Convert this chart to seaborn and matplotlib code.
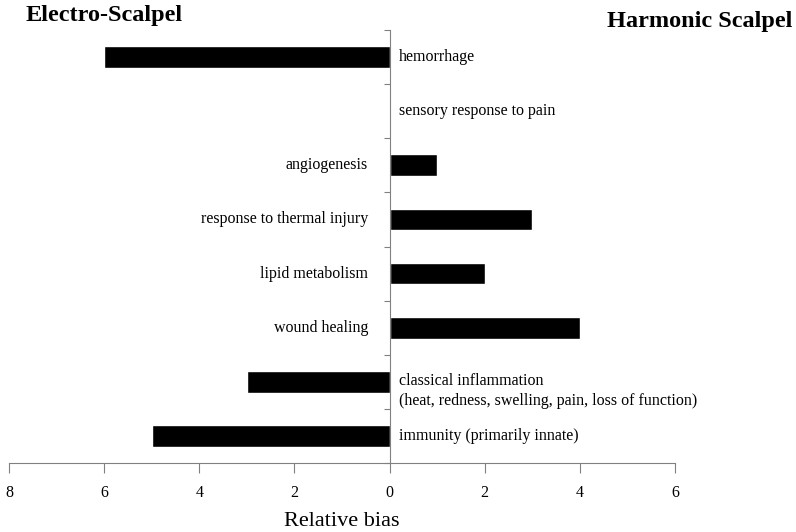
import numpy as np
import pandas as pd
import seaborn as sns
import matplotlib.pyplot as plt

# =========================
# Data
# =========================

categories = [
    "hemorrhage",
    "sensory response to pain",
    "angiogenesis",
    "response to thermal injury",
    "lipid metabolism",
    "wound healing",
    "classical inflammation\n(heat, redness, swelling, pain, loss of function)",
    "immunity (primarily innate)",
]
bias = [-6, 0, 1, 3, 2, 4, -3, -5]
xtick_values = [-8, -6, -4, -2, 0, 2, 4, 6]

df = pd.DataFrame({"category": categories, "bias": bias})

# =========================
# Figure
# =========================

sns.set_style("white")
plt.rcParams["font.family"] = ["Liberation Serif", "DejaVu Serif"]
plt.rcParams["text.color"] = "black"
plt.rcParams["xtick.color"] = "black"
plt.rcParams["axes.labelcolor"] = "black"

fig = plt.figure(figsize=(7.96, 5.32), dpi=100)
ax = fig.add_axes([9 / 796, 1 - 463 / 532, 666 / 796, 433 / 532])

sns.barplot(
    data=df,
    x="bias",
    y="category",
    orient="h",
    color="black",
    width=0.4,
    saturation=1,
    ax=ax
)

ax.set_xlim(-8, 6)
ax.set_ylim(len(categories) - 0.5, -0.5)

# axis styling
grey = "#808080"
for side in ["top", "right"]:
    ax.spines[side].set_visible(False)
ax.spines["left"].set_position(("data", 0))
ax.spines["left"].set_color(grey)
ax.spines["bottom"].set_color(grey)

ax.set_yticks(np.arange(-0.5, len(categories), 1.0))
ax.set_yticklabels([])
ax.tick_params(axis="y", direction="out", length=4, color=grey, left=True)

ax.set_xticks(xtick_values)
ax.set_xticklabels([str(abs(v)) for v in xtick_values], fontsize=11.5)
ax.tick_params(axis="x", direction="out", length=7, color=grey,
               labelcolor="black", pad=9, bottom=True)

ax.set_xlabel("Relative bias", fontsize=16, labelpad=8)
ax.set_ylabel("")

# category labels, on the opposite side of each bar
for i, (cat, val) in enumerate(zip(categories, bias)):
    if val > 0:
        ax.text(-0.45, i, cat, ha="right", va="center", fontsize=11.5)
    else:
        dy = 0.17 if "\n" in cat else 0
        ax.text(0.2, i + dy, cat, ha="left", va="center", fontsize=11.5,
                linespacing=1.3)

# side titles
fig.text(26 / 796, 1 - 16 / 532, "Electro-Scalpel", fontsize=17.5,
         fontweight="bold", ha="left", va="center")
fig.text(792 / 796, 1 - 22 / 532, "Harmonic Scalpel", fontsize=17.5,
         fontweight="bold", ha="right", va="center")

fig.savefig("out.png", dpi=100)
